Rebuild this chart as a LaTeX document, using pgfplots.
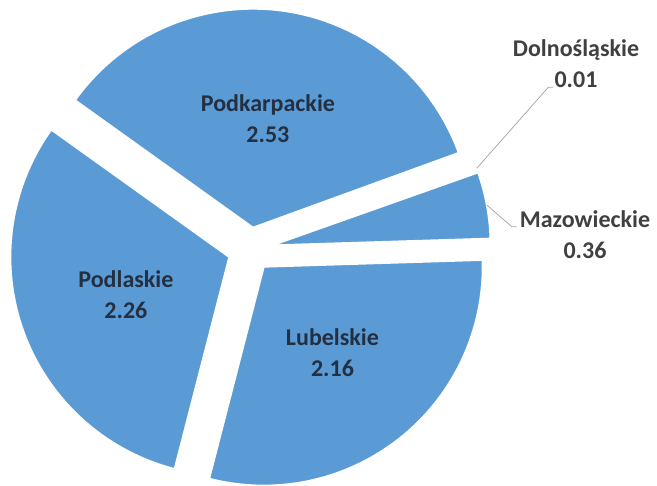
\documentclass[border=0pt]{standalone}
\usepackage{fontspec}
\setmainfont{Carlito}
\usepackage{pgfplots}
\pgfplotsset{compat=1.18}
\usepackage{pgfplotstable}
\definecolor{slice}{RGB}{91,155,213}
\definecolor{intext}{RGB}{36,48,66}
\definecolor{outtext}{RGB}{64,64,64}
\definecolor{leader}{RGB}{166,166,166}
\newcommand\labelfont{\bfseries\fontsize{24bp}{31bp}\selectfont}

% out=1: label outside with leader line; lx,ly label centre, ex,ey leader elbow
\pgfplotstableread{
name value out lx ly ex ey
Podkarpackie 2.53 0 0 0 0 0
Dolnośląskie 0.01 1 576 422 548.3 398.7
Mazowieckie 0.36 1 585 251 511.7 259.3
Lubelskie 2.16 0 0 0 0 0
Podlaskie 2.26 0 0 0 0 0
}\piedata

\begin{document}
\begin{tikzpicture}
\pgfplotstablegetrowsof{\piedata}
\pgfmathtruncatemacro\nrows{\pgfplotsretval-1}
\def\total{0}
\pgfplotsforeachungrouped \i in {0,...,\nrows}{%
  \pgfplotstablegetelem{\i}{value}\of\piedata
  \pgfmathsetmacro\total{\total+\pgfplotsretval}%
}
\begin{axis}[
  width=657bp, height=486bp, scale only axis,
  xmin=0, xmax=657, ymin=0, ymax=486,
  hide axis, clip=false,
]
\def\cx{250}\def\cy{236.5}% pie centre
\def\R{219}\def\ex{22}\def\start{144.4}% radius, explode, first angle
\pgfplotsforeachungrouped \i in {0,...,\nrows}{%
  \pgfplotstablegetelem{\i}{value}\of\piedata \let\val\pgfplotsretval
  \pgfplotstablegetelem{\i}{name}\of\piedata \let\nm\pgfplotsretval
  \pgfplotstablegetelem{\i}{out}\of\piedata \let\isout\pgfplotsretval
  \pgfmathsetmacro\sweep{360*\val/\total}%
  \pgfmathsetmacro\stop{\start-\sweep}%
  \pgfmathsetmacro\mid{\start-\sweep/2}%
  \pgfmathsetmacro\tx{\cx+\ex*cos(\mid)}%
  \pgfmathsetmacro\ty{\cy+\ex*sin(\mid)}%
  \pgfmathsetmacro\ax{\tx+\R*cos(\start)}%
  \pgfmathsetmacro\ay{\ty+\R*sin(\start)}%
  \edef\cmd{\noexpand\fill[slice, draw=white, line width=2bp, line join=round]
    (axis cs:\tx,\ty) -- (axis cs:\ax,\ay)
    arc[start angle=\start, end angle=\stop, radius=\R bp] -- cycle;}%
  \cmd
  \ifnum\isout=1
    \pgfplotstablegetelem{\i}{lx}\of\piedata \let\lx\pgfplotsretval
    \pgfplotstablegetelem{\i}{ly}\of\piedata \let\ly\pgfplotsretval
    \pgfplotstablegetelem{\i}{ex}\of\piedata \let\elx\pgfplotsretval
    \pgfplotstablegetelem{\i}{ey}\of\piedata \let\ely\pgfplotsretval
    \pgfmathsetmacro\mx{\tx+\R*cos(\mid)}%
    \pgfmathsetmacro\my{\ty+\R*sin(\mid)}%
    \pgfmathsetmacro\elxx{\elx+5}%
    \edef\cmd{\noexpand\draw[leader, line width=0.75bp]
      (axis cs:\mx,\my) -- (axis cs:\elx,\ely) -- (axis cs:\elxx,\ely);
      \noexpand\node[font=\noexpand\labelfont, text=outtext, align=center]
      at (axis cs:\lx,\ly) {\nm\noexpand\\\val};}%
    \cmd
  \else
    \pgfmathsetmacro\lx{\cx+132*cos(\mid)}%
    \pgfmathsetmacro\ly{\cy+132*sin(\mid)}%
    \edef\cmd{\noexpand\node[font=\noexpand\labelfont, text=intext, align=center]
      at (axis cs:\lx,\ly) {\nm\noexpand\\\val};}%
    \cmd
  \fi
  \let\start\stop
}
\end{axis}
% arcs' control points widen the box; keep it to the axis area
\pgfresetboundingbox
\path[use as bounding box] (current axis.south west) rectangle (current axis.north east);
\end{tikzpicture}
\end{document}
